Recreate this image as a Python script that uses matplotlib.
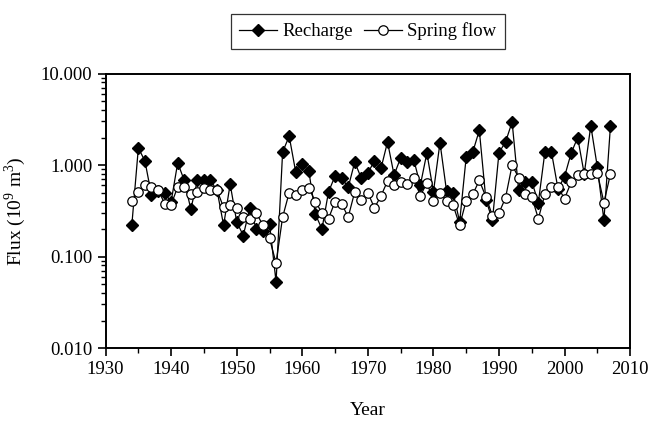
import numpy as np
import matplotlib
matplotlib.use('Agg')
import matplotlib.pyplot as plt
from matplotlib.ticker import FixedLocator, FixedFormatter, LogLocator, NullFormatter

# Data
years = np.arange(1934, 2008)

recharge = [0.22, 1.54, 1.11, 0.47, 0.52, 0.49, 0.40, 1.06, 0.68, 0.33,
            0.68, 0.68, 0.68, 0.53, 0.22, 0.62, 0.24, 0.17, 0.34, 0.20,
            0.19, 0.23, 0.053, 1.39, 2.07, 0.84, 1.04, 0.86, 0.29, 0.20,
            0.51, 0.76, 0.73, 0.57, 1.08, 0.72, 0.82, 1.11, 0.92, 1.79,
            0.78, 1.20, 1.08, 1.15, 0.60, 1.36, 0.51, 1.76, 0.52, 0.50,
            0.24, 1.23, 1.39, 2.40, 0.42, 0.25, 1.37, 1.79, 2.96, 0.53,
            0.65, 0.66, 0.39, 1.39, 1.39, 0.55, 0.75, 1.35, 2.00, 0.80,
            2.70, 0.95, 0.25, 2.70]

springflow = [0.41, 0.51, 0.60, 0.57, 0.54, 0.38, 0.37, 0.58, 0.57, 0.48,
              0.51, 0.56, 0.53, 0.53, 0.345, 0.37, 0.34, 0.27, 0.255, 0.30,
              0.22, 0.158, 0.085, 0.27, 0.50, 0.47, 0.53, 0.56, 0.40, 0.30,
              0.26, 0.40, 0.38, 0.27, 0.51, 0.42, 0.50, 0.34, 0.46, 0.67,
              0.60, 0.66, 0.62, 0.73, 0.46, 0.64, 0.41, 0.50, 0.41, 0.366,
              0.22, 0.41, 0.48, 0.68, 0.45, 0.28, 0.30, 0.44, 1.00, 0.73,
              0.48, 0.45, 0.26, 0.48, 0.58, 0.57, 0.43, 0.65, 0.78, 0.80,
              0.80, 0.82, 0.39, 0.80]

yticks = [0.01, 0.1, 1.0, 10.0]
yticklabels = ['0.010', '0.100', '1.000', '10.000']
xticks = [1930, 1940, 1950, 1960, 1970, 1980, 1990, 2000, 2010]

plt.rcParams['font.family'] = ['Liberation Serif', 'DejaVu Serif']
plt.rcParams['mathtext.fontset'] = 'custom'
plt.rcParams['mathtext.rm'] = 'Liberation Serif'

fig = plt.figure(figsize=(6.64, 4.23), dpi=100)
ax = fig.add_axes([0.159, 0.177, 0.790, 0.649])

# Recharge first, spring flow drawn on top
ax.plot(years, recharge, color='black', linewidth=0.9,
        marker='D', markersize=6.3, markerfacecolor='black',
        markeredgecolor='black', label='Recharge')
ax.plot(years, springflow, color='black', linewidth=0.9,
        marker='o', markersize=6.8, markerfacecolor='white',
        markeredgecolor='black', markeredgewidth=0.9, label='Spring flow')

# Arrange axes
ax.set_yscale('log')
ax.set_ylim(0.01, 10)
ax.set_xlim(1930, 2010)
ax.yaxis.set_major_locator(FixedLocator(yticks))
ax.yaxis.set_major_formatter(FixedFormatter(yticklabels))
ax.yaxis.set_minor_locator(LogLocator(base=10, subs=np.arange(2, 10)))
ax.yaxis.set_minor_formatter(NullFormatter())
ax.set_xticks(xticks)
ax.set_xticks(np.arange(1935, 2010, 10), minor=True)

ax.tick_params(which='major', direction='out', length=6, width=1.2,
               labelsize=13.5, colors='black')
ax.tick_params(which='minor', direction='out', length=3.5, width=1.0)
for s in ax.spines.values():
    s.set_linewidth(1.4)

ax.set_xlabel('Year', fontsize=14, labelpad=17)
ax.set_ylabel('Flux (10$^9$ m$^3$)', fontsize=14, labelpad=9)

fig.legend(loc='center', bbox_to_anchor=(0.554, 0.926), ncol=2,
           frameon=True, fancybox=False, edgecolor='black',
           fontsize=13.5, handlelength=2.0, handletextpad=0.3,
           columnspacing=0.6, borderpad=0.45
           ).get_frame().set_linewidth(0.9)

fig.savefig('out.png', dpi=100)
